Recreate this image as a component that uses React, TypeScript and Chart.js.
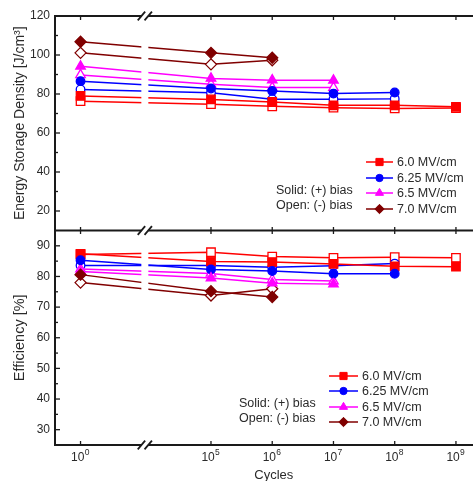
import React, { useEffect, useRef } from 'react';
import { Chart, registerables } from 'chart.js';
import { drawPoint } from 'chart.js/helpers';

Chart.register(...registerables);

// ---------- data ----------
const cycleExponents = [0, 5, 6, 7, 8, 9];
const xTickBase = '10';
const xTickExponents = ['0', '5', '6', '7', '8', '9'];

const seriesLabels = ['6.0 MV/cm', '6.25 MV/cm', '6.5 MV/cm', '7.0 MV/cm'];
const seriesColors = ['#ff0000', '#0000ff', '#ff00ff', '#800000'];
const seriesMarkers = ['rect', 'circle', 'triangle', 'rectRot'];

// Energy storage density [J/cm3] — solid: (+) bias, open: (-) bias
const energySolid60 = [79.0, 77.2, 75.9, 74.2, 74.2, 73.4];
const energyOpen60 = [76.3, 74.8, 73.7, 73.0, 72.6, 72.8];
const energySolid625 = [86.6, 82.8, 81.6, 80.2, 80.8];
const energyOpen625 = [82.3, 80.6, 77.3, 77.3, 77.5];
const energySolid65 = [94.2, 88.0, 87.1, 87.0];
const energyOpen65 = [89.8, 85.0, 83.3, 83.3];
const energySolid70 = [106.8, 101.1, 98.6];
const energyOpen70 = [101.1, 95.2, 97.3];

// Efficiency [%]
const effSolid60 = [87.4, 84.9, 84.7, 84.1, 83.3, 83.2];
const effOpen60 = [87.2, 87.9, 86.5, 86.1, 86.3, 86.1];
const effSolid625 = [85.3, 82.3, 81.8, 80.9, 80.9];
const effOpen625 = [83.6, 83.6, 83.0, 83.5, 84.2];
const effSolid65 = [81.6, 79.5, 77.8, 77.5];
const effOpen65 = [82.4, 81.0, 79.0, 78.5];
const effSolid70 = [80.6, 75.2, 73.3];
const effOpen70 = [78.0, 73.8, 76.0];

const energyTicks = [20, 40, 60, 80, 100, 120];
const energyMinorTicks = [30, 50, 70, 90, 110];
const effTicks = [30, 40, 50, 60, 70, 80, 90];
const effMinorTicks = [35, 45, 55, 65, 75, 85];

const energySolid = [energySolid60, energySolid625, energySolid65, energySolid70];
const energyOpen = [energyOpen60, energyOpen625, energyOpen65, energyOpen70];
const effSolid = [effSolid60, effSolid625, effSolid65, effSolid70];
const effOpen = [effOpen60, effOpen625, effOpen65, effOpen70];

// ---------- broken log axis ----------
const BREAK_COMPRESSION = 2.87; // decades 10^1..10^4 removed (axis break)
const axisPos = (exp: number) => (exp >= 5 ? exp - BREAK_COMPRESSION : exp);
const BREAK_POS = 1.05;

const FONT = "'Liberation Sans', Arial, 'DejaVu Sans', sans-serif";
const TEXT = '#2a2a2a';
const AXIS = '#1a1a1a';

const markerRadius: Record<string, number> = { rect: 6, circle: 4.3, triangle: 5.5, rectRot: 5.5 };

function makeDataset(values: number[], i: number, filled: boolean, yAxisID: string) {
  const color = seriesColors[i];
  const marker = seriesMarkers[i];
  return {
    label: seriesLabels[i] + (filled ? ' (+)' : ' (-)'),
    data: values.map((v, k) => ({ x: axisPos(cycleExponents[k]), y: v })),
    yAxisID,
    xAxisID: 'x',
    borderColor: color,
    backgroundColor: filled ? color : '#ffffff',
    borderWidth: 1.5,
    pointStyle: marker,
    pointRadius: markerRadius[marker],
    pointBorderWidth: 1.3,
    pointBorderColor: color,
    pointBackgroundColor: filled ? color : '#ffffff',
    tension: 0,
  };
}

function buildDatasets() {
  const ds: any[] = [];
  // solid first → drawn on top
  for (let i = 3; i >= 0; i--) ds.push(makeDataset(energySolid[i], i, true, 'yE'));
  for (let i = 3; i >= 0; i--) ds.push(makeDataset(effSolid[i], i, true, 'yF'));
  for (let i = 3; i >= 0; i--) ds.push(makeDataset(energyOpen[i], i, false, 'yE'));
  for (let i = 3; i >= 0; i--) ds.push(makeDataset(effOpen[i], i, false, 'yF'));
  return ds;
}

function line(ctx: CanvasRenderingContext2D, x1: number, y1: number, x2: number, y2: number) {
  ctx.beginPath();
  ctx.moveTo(x1, y1);
  ctx.lineTo(x2, y2);
  ctx.stroke();
}

function drawLegend(ctx: CanvasRenderingContext2D, lineX: number, rows: number[], lineLen: number, biasX: number, biasRows: number[]) {
  ctx.font = `12.5px ${FONT}`;
  ctx.textBaseline = 'middle';
  ctx.textAlign = 'left';
  for (let i = 0; i < seriesLabels.length; i++) {
    const y = rows[i];
    const color = seriesColors[i];
    ctx.strokeStyle = color;
    ctx.lineWidth = 1.5;
    line(ctx, lineX, y, lineX + lineLen, y);
    ctx.fillStyle = color;
    ctx.strokeStyle = color;
    ctx.lineWidth = 1;
    drawPoint(ctx, { pointStyle: seriesMarkers[i] as any, rotation: 0, radius: markerRadius[seriesMarkers[i]] * 0.85, borderWidth: 1 }, lineX + lineLen / 2, y);
    ctx.fillStyle = TEXT;
    ctx.fillText(seriesLabels[i], lineX + lineLen + 4, y + 0.5);
  }
  ctx.fillStyle = TEXT;
  ctx.fillText('Solid: (+) bias', biasX, biasRows[0]);
  ctx.fillText('Open: (-) bias', biasX, biasRows[1]);
}

function breakMark(ctx: CanvasRenderingContext2D, bx: number, y: number) {
  ctx.fillStyle = '#ffffff';
  ctx.fillRect(bx - 3.4, y - 2, 6.8, 4);
  ctx.strokeStyle = AXIS;
  ctx.lineWidth = 1.8;
  for (const cx of [bx - 3.4, bx + 3.4]) line(ctx, cx - 3.7, y + 4.3, cx + 3.7, y - 4.3);
}

const decorPlugin = {
  id: 'decor',
  afterDatasetsDraw(chart: any) {
    const ctx: CanvasRenderingContext2D = chart.ctx;
    const xs = chart.scales.x;
    const yE = chart.scales.yE;
    const yF = chart.scales.yF;
    const { left, right, top, bottom } = chart.chartArea;
    const sepY = yF.top;
    const bx = xs.getPixelForValue(BREAK_POS);
    ctx.save();
    // gap in the data lines at the axis break
    ctx.fillStyle = '#ffffff';
    ctx.fillRect(bx - 3.5, top + 1, 7, bottom - top - 2);
    // top frame and panel separator
    ctx.strokeStyle = AXIS;
    ctx.lineWidth = 2;
    line(ctx, left - 1, top, right, top);
    line(ctx, left - 1, sepY, right, sepY);
    // x tick marks and tick labels (10 with superscript exponent)
    ctx.lineWidth = 1.3;
    cycleExponents.forEach((e, i) => {
      const x = xs.getPixelForValue(axisPos(e));
      ctx.strokeStyle = AXIS;
      line(ctx, x, top, x, top + 4);
      line(ctx, x, sepY - 3.5, x, sepY + 3.5);
      line(ctx, x, bottom - 4, x, bottom);
      ctx.fillStyle = TEXT;
      ctx.textBaseline = 'alphabetic';
      ctx.textAlign = 'left';
      ctx.font = `12px ${FONT}`;
      const wBase = ctx.measureText(xTickBase).width;
      ctx.font = `8.5px ${FONT}`;
      const wExp = ctx.measureText(xTickExponents[i]).width;
      const start = x - (wBase + wExp) / 2 - 0.5;
      ctx.font = `12px ${FONT}`;
      ctx.fillText(xTickBase, start, bottom + 15.5);
      ctx.font = `8.5px ${FONT}`;
      ctx.fillText(xTickExponents[i], start + wBase + 0.3, bottom + 10);
    });
    // y tick marks
    const yTicks = (scale: any, major: number[], minor: number[]) => {
      for (const v of major) { const y = scale.getPixelForValue(v); line(ctx, left, y, left + 5, y); }
      for (const v of minor) { const y = scale.getPixelForValue(v); line(ctx, left, y, left + 3, y); }
    };
    yTicks(yE, energyTicks, energyMinorTicks);
    yTicks(yF, effTicks, effMinorTicks);
    // axis break marks
    breakMark(ctx, bx, top);
    breakMark(ctx, bx, sepY);
    breakMark(ctx, bx, bottom);
    // legends
    drawLegend(ctx, 366, [162, 178, 193, 209], 27, 276, [191, 206]);
    drawLegend(ctx, 329, [376, 391, 407, 422], 29, 239, [404, 419]);
    ctx.restore();
  },
};

const yAxisCommon = (title: string, titleSize: number) => ({
  type: 'linear' as const,
  position: 'left' as const,
  stack: 'panels',
  stackWeight: 1,
  grid: { display: false, drawTicks: false },
  border: { display: true, color: AXIS, width: 2 },
  ticks: { font: { family: FONT, size: 12 }, color: TEXT, padding: 5 },
  title: { display: true, text: title, font: { family: FONT, size: titleSize }, color: TEXT, padding: { top: 11.5, bottom: 0 } },
  afterFit: (s: any) => { s.width = 55; },
});

export default function App() {
  const ref = useRef<HTMLCanvasElement>(null);
  useEffect(() => {
    const canvas = ref.current!;
    const chart = new Chart(canvas, {
      type: 'line',
      data: { datasets: buildDatasets() },
      plugins: [decorPlugin],
      options: {
        responsive: false,
        animation: false,
        devicePixelRatio: 1,
        layout: { padding: { top: 16, right: 0, left: 0, bottom: 0 } },
        plugins: { legend: { display: false }, tooltip: { enabled: false } },
        scales: {
          x: {
            type: 'linear',
            position: 'bottom',
            min: -0.417,
            max: 6.73,
            grid: { display: false, drawTicks: false },
            border: { display: true, color: AXIS, width: 2 },
            afterBuildTicks: (s: any) => { s.ticks = cycleExponents.map((e) => ({ value: axisPos(e) })); },
            ticks: { display: false },
            title: { display: true, text: 'Cycles', font: { family: FONT, size: 13 }, color: TEXT, padding: { top: 0, bottom: 7 } },
            afterFit: (s: any) => { s.height = 45; },
          },
          yF: {
            ...yAxisCommon('Efficiency [%]', 14.5),
            min: 25,
            max: 95,
            afterBuildTicks: (s: any) => { s.ticks = effTicks.map((v) => ({ value: v })); },
          },
          yE: {
            ...yAxisCommon('Energy Storage Density [J/cm³]', 14),
            min: 10,
            max: 120,
            afterBuildTicks: (s: any) => { s.ticks = energyTicks.map((v) => ({ value: v })); },
          },
        },
      } as any,
    });
    return () => chart.destroy();
  }, []);
  return (
    <div style={{ position: 'fixed', left: 0, top: 0, width: 473, height: 481, overflow: 'hidden', background: '#ffffff' }}>
      <canvas ref={ref} width={500} height={490} style={{ display: 'block', width: 500, height: 490 }} />
    </div>
  );
}
